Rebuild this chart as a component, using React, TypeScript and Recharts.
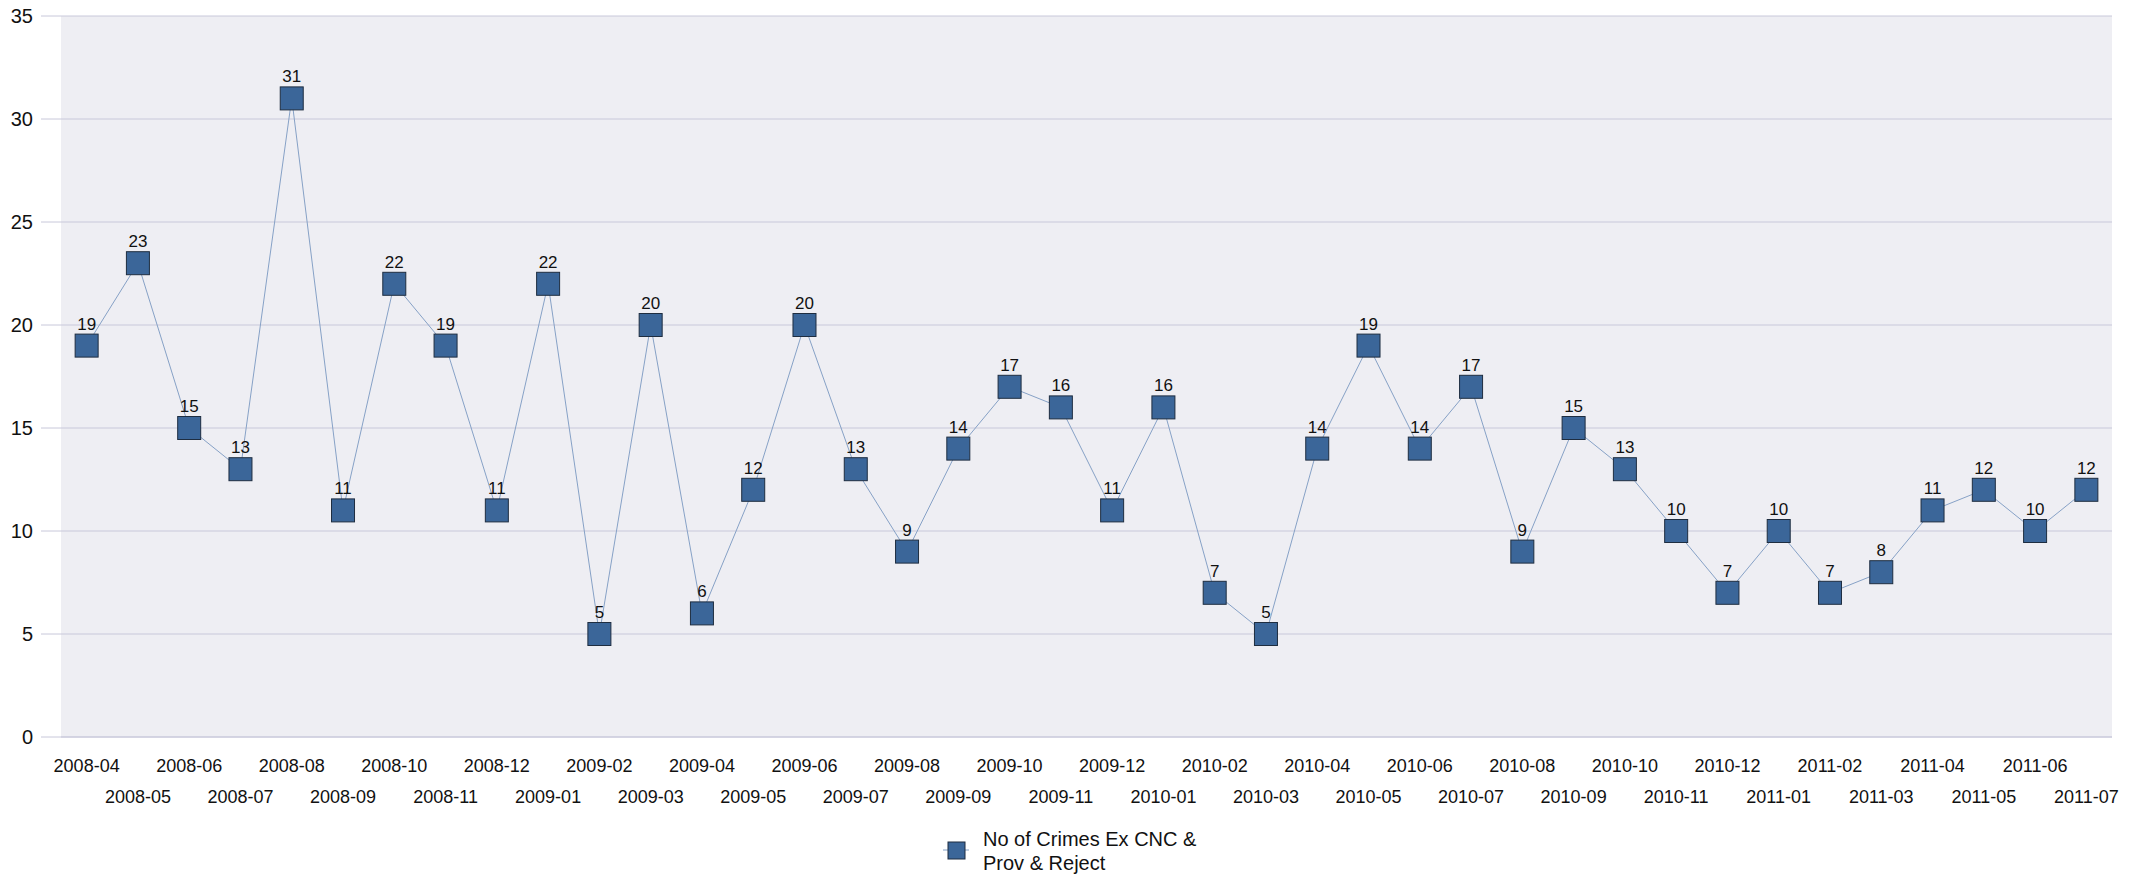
import { LineChart, Line, XAxis, YAxis, CartesianGrid, LabelList } from "recharts"

const months = [
  "2008-04", "2008-05", "2008-06", "2008-07", "2008-08", "2008-09", "2008-10", "2008-11", "2008-12",
  "2009-01", "2009-02", "2009-03", "2009-04", "2009-05", "2009-06", "2009-07", "2009-08", "2009-09",
  "2009-10", "2009-11", "2009-12", "2010-01", "2010-02", "2010-03", "2010-04", "2010-05", "2010-06",
  "2010-07", "2010-08", "2010-09", "2010-10", "2010-11", "2010-12", "2011-01", "2011-02", "2011-03",
  "2011-04", "2011-05", "2011-06", "2011-07",
]

const crimes = [
  19, 23, 15, 13, 31, 11, 22, 19, 11,
  22, 5, 20, 6, 12, 20, 13, 9, 14,
  17, 16, 11, 16, 7, 5, 14, 19, 14,
  17, 9, 15, 13, 10, 7, 10, 7, 8,
  11, 12, 10, 12,
]

const yTicks = [0, 5, 10, 15, 20, 25, 30, 35]

const legendLines = ["No of Crimes Ex CNC &", "Prov & Reject"]

const data = months.map((m, i) => ({ month: m, value: crimes[i] }))

const FONT = "Arial, 'Liberation Sans', sans-serif"
const FILL = "#3b6699"
const EDGE = "#1e2d40"
const LINE = "#86a1c6"
const GRID = "#c8c8da"
const TEXT = "#111"

function SquareDot(props: any) {
  const { cx, cy } = props
  if (cx == null || cy == null) return null
  const s = 23
  return (
    <rect x={cx - s / 2} y={cy - s / 2} width={s} height={s} fill={FILL} stroke={EDGE} strokeWidth={1} />
  )
}

function MonthTick(props: any) {
  const { x, y, payload, index } = props
  return (
    <text
      x={x}
      y={y + (index % 2 === 0 ? 35 : 66)}
      textAnchor="middle"
      fontSize={18}
      fontFamily={FONT}
      fill={TEXT}
    >
      {payload.value}
    </text>
  )
}

function ValueTick(props: any) {
  const { x, y, payload } = props
  return (
    <text x={x} y={y + 7} textAnchor="end" fontSize={20} fontFamily={FONT} fill={TEXT}>
      {payload.value}
    </text>
  )
}

function PointLabel(props: any) {
  const { x, y, value } = props
  return (
    <text x={x} y={y - 16} textAnchor="middle" fontSize={17} fontFamily={FONT} fill={TEXT}>
      {value}
    </text>
  )
}

export default function App() {
  // pulled up over the body margin so the top tick label has room inside the svg
  return (
    <div style={{ position: "relative", width: 2137, height: 880, marginTop: -8, background: "#fff" }}>
      <LineChart
        width={2137}
        height={880}
        data={data}
        margin={{ top: 16, right: 33, bottom: 0, left: 0 }}
      >
        <CartesianGrid vertical={false} horizontal fill="#eeeef3" stroke={GRID} />
        <XAxis
          dataKey="month"
          scale="band"
          interval={0}
          tick={<MonthTick />}
          tickLine={false}
          tickSize={0}
          tickMargin={0}
          axisLine={{ stroke: GRID }}
          height={143}
        />
        <YAxis
          domain={[0, 35]}
          ticks={yTicks}
          width={53}
          axisLine={false}
          tickSize={20}
          tickMargin={8}
          tickLine={{ stroke: GRID }}
          tick={<ValueTick />}
        />
        <Line
          dataKey="value"
          name={legendLines.join(" ")}
          stroke={LINE}
          strokeWidth={1}
          dot={<SquareDot />}
          activeDot={false}
          isAnimationActive={false}
        >
          <LabelList dataKey="value" content={<PointLabel />} />
        </Line>
      </LineChart>
      <svg
        width={400}
        height={60}
        style={{ position: "absolute", left: 930, top: 818, overflow: "visible" }}
      >
        <line x1={5} y1={32} x2={31} y2={32} stroke={LINE} strokeWidth={1} />
        <rect x={10} y={24} width={17} height={17} fill={FILL} stroke={EDGE} strokeWidth={1} />
        {legendLines.map((t, i) => (
          <text key={t} x={45} y={28 + i * 24} fontSize={20} fontFamily={FONT} fill={TEXT}>
            {t}
          </text>
        ))}
      </svg>
    </div>
  )
}
